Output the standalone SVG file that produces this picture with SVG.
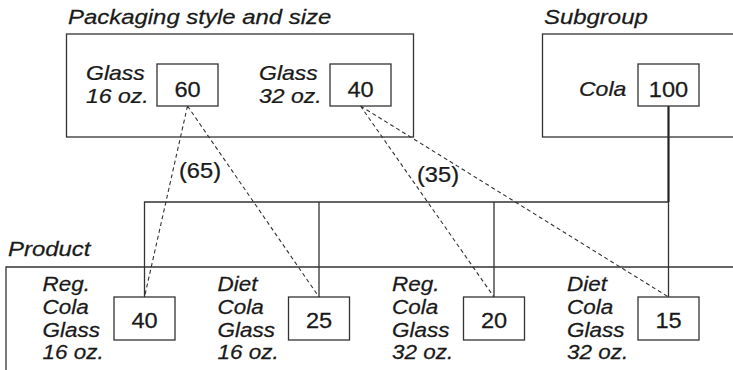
<svg xmlns="http://www.w3.org/2000/svg" width="733" height="370" viewBox="0 0 733 370">
<style>
.box{fill:none;stroke:#333;stroke-width:1.3}
.ln{fill:none;stroke:#333;stroke-width:1.3}
.thick{fill:none;stroke:#222;stroke-width:2.2}
.dash{fill:none;stroke:#333;stroke-width:1.1;stroke-dasharray:4 3}
text{font-family:"Liberation Sans",Arial,Helvetica,sans-serif;fill:#1a1a1a;stroke:#1a1a1a;stroke-width:0.25}
.ttl{font-style:italic;font-size:21px}
.lbl{font-style:italic;font-size:20px}
.lb2{font-style:italic;font-size:21px}
.num{font-size:22.5px;text-anchor:middle}
.pct{font-size:21.5px}
</style>
<rect width="733" height="370" fill="#fff"/>
<g id="connectors">
<path class="thick" d="M668.5 106V202"/>
<path class="ln" d="M144.5 297V202H668.5V297M319 202V297M494 202V297"/>
<path class="dash" d="M187.5 106L144.5 297M187.5 106L319 297M360.5 106L494 297M360.5 106L668.5 297"/>
<text class="pct" transform="translate(179,178) scale(1.1,1)">(65)</text>
<text class="pct" transform="translate(417,182) scale(1.1,1)">(35)</text>
</g>
<g id="packaging">
<text class="ttl" transform="translate(68,24) scale(1.14,1)">Packaging style and size</text>
<rect class="box" x="66.5" y="34" width="347" height="103"/>
</g>
<g id="glass16">
<text class="lbl" transform="translate(86,79.5) scale(1.15,1)">Glass</text>
<text class="lbl" transform="translate(86,102.5) scale(1.15,1)">16 oz.</text>
<rect class="box" x="157" y="64" width="61" height="42"/>
<text class="num" transform="translate(187.5,96.5) scale(1.05,1)">60</text>
</g>
<g id="glass32">
<text class="lbl" transform="translate(259,79.5) scale(1.15,1)">Glass</text>
<text class="lbl" transform="translate(259,102.5) scale(1.15,1)">32 oz.</text>
<rect class="box" x="330" y="64" width="61" height="42"/>
<text class="num" transform="translate(360.5,96.5) scale(1.05,1)">40</text>
</g>
<g id="subgroup">
<text class="ttl" transform="translate(544,24) scale(1.14,1)">Subgroup</text>
<rect class="box" x="542.5" y="34" width="220" height="103"/>
</g>
<g id="cola">
<text class="lbl" transform="translate(579,95.5) scale(1.15,1)">Cola</text>
<rect class="box" x="638" y="64" width="61" height="42"/>
<text class="num" transform="translate(668.5,96.5) scale(1.05,1)">100</text>
</g>
<g id="product">
<text class="ttl" transform="translate(8,256) scale(1.14,1)">Product</text>
<path class="box" d="M745 267H6V375"/>
</g>
<g id="reg16">
<text class="lb2" transform="translate(42.5,291) scale(1.07,1)">Reg.</text>
<text class="lb2" transform="translate(42.5,314) scale(1.07,1)">Cola</text>
<text class="lb2" transform="translate(42.5,336.5) scale(1.07,1)">Glass</text>
<text class="lb2" transform="translate(42.5,359) scale(1.07,1)">16 oz.</text>
<rect class="box" x="114" y="297" width="61" height="43"/>
<text class="num" transform="translate(144.5,327.5) scale(1.05,1)">40</text>
</g>
<g id="diet16">
<text class="lb2" transform="translate(217.5,291) scale(1.07,1)">Diet</text>
<text class="lb2" transform="translate(217.5,314) scale(1.07,1)">Cola</text>
<text class="lb2" transform="translate(217.5,336.5) scale(1.07,1)">Glass</text>
<text class="lb2" transform="translate(217.5,359) scale(1.07,1)">16 oz.</text>
<rect class="box" x="288.5" y="297" width="61" height="43"/>
<text class="num" transform="translate(319,327.5) scale(1.05,1)">25</text>
</g>
<g id="reg32">
<text class="lb2" transform="translate(392,291) scale(1.07,1)">Reg.</text>
<text class="lb2" transform="translate(392,314) scale(1.07,1)">Cola</text>
<text class="lb2" transform="translate(392,336.5) scale(1.07,1)">Glass</text>
<text class="lb2" transform="translate(392,359) scale(1.07,1)">32 oz.</text>
<rect class="box" x="463.5" y="297" width="61" height="43"/>
<text class="num" transform="translate(494,327.5) scale(1.05,1)">20</text>
</g>
<g id="diet32">
<text class="lb2" transform="translate(567,291) scale(1.07,1)">Diet</text>
<text class="lb2" transform="translate(567,314) scale(1.07,1)">Cola</text>
<text class="lb2" transform="translate(567,336.5) scale(1.07,1)">Glass</text>
<text class="lb2" transform="translate(567,359) scale(1.07,1)">32 oz.</text>
<rect class="box" x="638" y="297" width="61" height="43"/>
<text class="num" transform="translate(668.5,327.5) scale(1.05,1)">15</text>
</g>
</svg>
